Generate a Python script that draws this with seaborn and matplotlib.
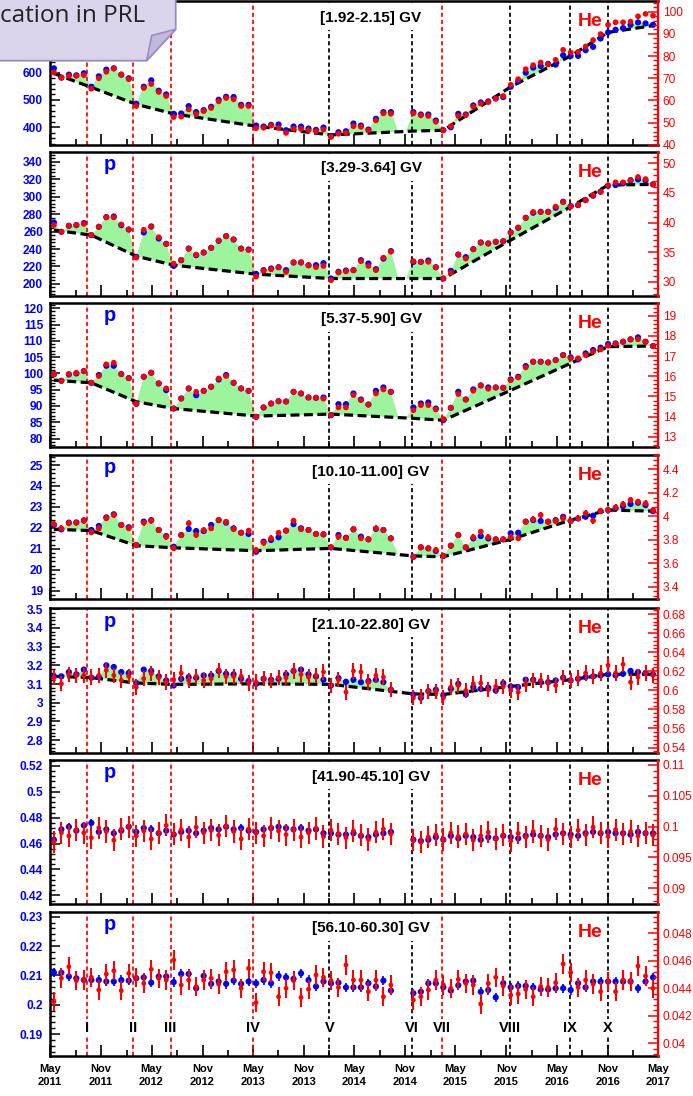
import numpy as np
import pandas as pd
import matplotlib
matplotlib.use("Agg")
import matplotlib.pyplot as plt
import matplotlib.dates as mdates
from matplotlib.ticker import AutoMinorLocator
from matplotlib.patches import Polygon
import seaborn as sns

sns.set_theme(style="white")
plt.rcParams["font.family"] = ["Liberation Sans", "DejaVu Sans"]

# ---------------------------------------------------------------- time axis
FIRST_BR, LAST_BR = 2426, 2506          # Bartels rotations
MISSING_BR = [2472, 2473]
BR_ORIGIN = pd.Timestamp("2011-05-15")
all_br = np.arange(FIRST_BR, LAST_BR + 1)
br = np.array([b for b in all_br if b not in MISSING_BR])

x_tick_labels = ["May\n2011", "Nov\n2011", "May\n2012", "Nov\n2012", "May\n2013",
                 "Nov\n2013", "May\n2014", "Nov\n2014", "May\n2015", "Nov\n2015",
                 "May\n2016", "Nov\n2016", "May\n2017"]
x_major_dates = pd.date_range("2011-05-01", "2017-05-01", freq="6MS")
x_minor_dates = pd.date_range("2011-08-01", "2017-02-01", freq="6MS")

# solar events (vertical markers)
event_labels = ["I", "II", "III", "IV", "V", "VI", "VII", "VIII", "IX", "X"]
event_dates = ["2011-09-12", "2012-02-23", "2012-07-09", "2013-05-03", "2014-02-01",
               "2014-11-25", "2015-03-13", "2015-11-14", "2016-06-16", "2016-11-01"]
event_colors = ["red", "red", "red", "red", "black",
                "black", "red", "black", "black", "black"]

rigidity_bins = ["[1.92-2.15] GV", "[3.29-3.64] GV", "[5.37-5.90] GV",
                 "[10.10-11.00] GV", "[21.10-22.80] GV", "[41.90-45.10] GV",
                 "[56.10-60.30] GV"]

# ---------------------------------------------------------------- fluxes
p_1 = [615.8, 581.5, 592.5, 590.1, 597.4, 548.4, 586.4, 610.9, 615.8, 592.5, 579.1, 485.9,
       548.4, 571.7, 533.7, 520.2, 449.2, 450.4, 477.3, 455.3, 462.6, 474.9, 500.6, 511.6,
       510.4, 482.2, 482.2, 406.3, 402.6, 408.7, 410.0, 389.1, 402.6, 402.6, 395.2, 390.3,
       398.9, 367.0, 381.8, 385.4, 413.6, 406.3, 391.6, 430.8, 455.3, 455.3,
       455.3, 446.7, 446.7, 424.6, 389.1, 400.1, 449.2, 446.7, 479.8, 490.8, 494.5, 505.5,
       510.4, 548.4, 568.0, 599.9, 618.3, 624.4, 631.7, 629.3, 663.6, 661.2, 661.2, 682.0,
       694.3, 724.9, 747.0, 756.8, 762.9, 775.1, 783.7, 780.0, 775.1]
he_1 = [72.6, 70.3, 71.1, 71.1, 71.4, 65.3, 70.0, 72.9, 74.4, 71.7, 69.6, 57.5,
        65.6, 67.4, 63.8, 62.0, 52.5, 52.7, 56.0, 53.9, 55.2, 56.6, 59.6, 61.1,
        60.5, 57.5, 57.5, 47.5, 47.7, 48.7, 47.7, 45.4, 47.2, 47.2, 46.6, 46.2,
        46.9, 43.6, 45.0, 45.4, 48.4, 48.1, 46.5, 51.0, 54.2, 54.0,
        54.2, 53.3, 53.0, 50.4, 46.6, 48.4, 53.0, 53.4, 57.2, 58.6, 59.3, 60.8,
        62.0, 67.1, 69.6, 74.1, 75.9, 77.1, 76.3, 78.3, 82.8, 81.6, 81.9, 84.3,
        87.2, 89.9, 94.1, 95.2, 95.2, 95.5, 97.9, 99.0, 98.2]

p_2 = [270.5, 259.7, 266.6, 267.4, 269.7, 255.9, 265.5, 276.6, 277.3, 267.4, 262.4, 231.0,
       259.0, 265.9, 252.1, 246.0, 220.7, 227.2, 240.6, 233.0, 236.0, 241.4, 249.4, 254.8,
       250.9, 240.6, 239.5, 211.5, 215.8, 217.7, 219.2, 215.8, 224.6, 224.6, 221.5, 221.5,
       223.8, 206.2, 213.9, 215.4, 215.8, 227.2, 223.4, 216.9, 229.1, 237.6,
       225.3, 225.3, 226.9, 219.2, 206.2, 215.0, 233.7, 230.7, 239.9, 247.5, 246.4, 248.3,
       249.0, 259.0, 264.3, 275.8, 281.6, 282.7, 282.7, 287.3, 294.2, 289.2, 290.3, 296.1,
       301.1, 305.7, 312.5, 313.3, 315.2, 318.7, 319.8, 318.7, 314.1]
he_2 = [39.6, 38.45, 39.5, 39.6, 39.8, 37.9, 39.3, 40.9, 40.9, 39.7, 38.85, 34.1,
        38.8, 39.3, 37.55, 36.4, 33.1, 33.7, 35.6, 34.6, 35.0, 35.75, 37.0, 37.7,
        37.2, 35.6, 35.4, 30.9, 31.9, 32.15, 32.5, 31.7, 33.3, 33.3, 32.8, 32.5,
        32.7, 30.3, 31.6, 31.8, 32.0, 33.5, 32.7, 32.0, 34.1, 35.1,
        33.5, 33.4, 33.4, 32.5, 30.6, 31.6, 34.6, 33.95, 35.5, 36.65, 36.5, 36.8,
        36.9, 38.35, 39.2, 40.8, 41.8, 41.8, 41.8, 42.7, 43.5, 42.7, 43.0, 43.8,
        44.65, 45.2, 46.3, 46.8, 46.8, 47.2, 47.7, 47.35, 46.45]

p_3 = [99.78, 97.73, 99.68, 99.99, 100.7, 97.1, 99.5, 102.35, 102.35, 99.8, 98.55, 90.65,
       98.96, 100.2, 96.9, 94.86, 89.2, 92.3, 95.37, 93.3, 94.65, 95.9, 98.14, 99.5,
       97.1, 95.37, 94.65, 86.65, 89.53, 90.76, 91.47, 91.37, 94.34, 93.83, 92.6, 92.5,
       92.6, 87.17, 90.55, 90.55, 93.83, 91.99, 90.45, 94.65, 95.68, 94.34,
       89.53, 90.76, 91.07, 89.2, 85.63, 89.42, 94.34, 91.99, 95.06, 96.3, 95.68, 95.68,
       95.58, 98.14, 98.96, 102.24, 103.58, 103.58, 103.37, 104.09, 105.63, 104.9, 104.3, 106.14,
       107.17, 107.9, 109.0, 109.2, 109.73, 110.45, 111.06, 109.73, 108.4]
he_3 = [16.11, 15.78, 16.11, 16.17, 16.26, 15.68, 16.01, 16.59, 16.67, 16.11, 15.91, 14.64,
        15.98, 16.17, 15.65, 15.4, 14.41, 14.9, 15.4, 15.23, 15.28, 15.48, 15.89, 16.01,
        15.68, 15.4, 15.28, 14.0, 14.46, 14.65, 14.77, 14.75, 15.23, 15.15, 14.95, 14.94,
        14.89, 14.08, 14.46, 14.46, 15.07, 14.82, 14.6, 15.15, 15.35, 15.23,
        14.32, 14.57, 14.57, 14.36, 13.89, 14.44, 15.12, 14.85, 15.28, 15.55, 15.38, 15.45,
        15.43, 15.81, 15.94, 16.44, 16.72, 16.72, 16.69, 16.8, 17.05, 16.89, 16.89, 17.05,
        17.22, 17.33, 17.51, 17.6, 17.71, 17.83, 17.83, 17.71, 17.5]

p_4 = [22.14, 21.93, 22.25, 22.26, 22.36, 21.9, 22.09, 22.5, 22.65, 22.14, 22.03, 21.18,
       22.3, 22.37, 21.9, 21.61, 21.1, 21.66, 21.95, 21.85, 21.85, 22.14, 22.37, 22.25,
       21.98, 21.77, 21.71, 20.86, 21.34, 21.42, 21.55, 21.87, 22.18, 21.98, 21.9, 21.71,
       21.69, 21.07, 21.66, 21.53, 21.93, 21.58, 21.45, 21.95, 21.9, 21.5,
       20.62, 21.07, 21.02, 20.9, 20.66, 21.15, 21.66, 21.07, 21.5, 21.61, 21.5, 21.45,
       21.45, 21.74, 21.77, 22.3, 22.37, 22.33, 22.3, 22.37, 22.53, 22.33, 22.45, 22.53,
       22.58, 22.8, 22.85, 22.93, 23.04, 23.14, 23.2, 23.09, 22.8]
he_4 = [3.934, 3.897, 3.94, 3.946, 3.963, 3.863, 3.897, 3.983, 4.011, 3.926, 3.897, 3.755,
        3.946, 3.963, 3.883, 3.826, 3.727, 3.841, 3.94, 3.841, 3.883, 3.897, 3.968, 3.954,
        3.889, 3.86, 3.878, 3.713, 3.775, 3.812, 3.86, 3.878, 3.963, 3.889, 3.883, 3.849,
        3.846, 3.736, 3.826, 3.815, 3.889, 3.812, 3.804, 3.897, 3.883, 3.812,
        3.656, 3.736, 3.727, 3.713, 3.662, 3.75, 3.841, 3.736, 3.821, 3.869, 3.821, 3.804,
        3.804, 3.821, 3.812, 3.954, 3.974, 4.011, 3.954, 3.96, 3.983, 3.96, 3.983, 4.025,
        3.963, 4.045, 4.054, 4.076, 4.102, 4.139, 4.125, 4.11, 4.054]

p_5 = [3.141, 3.141, 3.164, 3.152, 3.177, 3.134, 3.137, 3.2, 3.191, 3.164, 3.159, 3.105,
       3.177, 3.17, 3.141, 3.119, 3.092, 3.128, 3.137, 3.134, 3.146, 3.146, 3.17, 3.155,
       3.152, 3.128, 3.116, 3.101, 3.128, 3.123, 3.128, 3.152, 3.17, 3.177, 3.152, 3.141,
       3.123, 3.092, 3.132, 3.112, 3.123, 3.11, 3.116, 3.123, 3.11, 3.069,
       3.044, 3.026, 3.062, 3.069, 3.039, 3.074, 3.101, 3.044, 3.083, 3.074, 3.08, 3.065,
       3.105, 3.087, 3.083, 3.123, 3.123, 3.11, 3.11, 3.119, 3.134, 3.119, 3.128, 3.137,
       3.141, 3.146, 3.152, 3.146, 3.155, 3.17, 3.164, 3.159, 3.152]
he_5 = [0.6132, 0.6069, 0.6167, 0.6157, 0.6157, 0.6139, 0.6157, 0.621, 0.6157, 0.6104, 0.6146, 0.6034,
        0.6122, 0.6174, 0.6132, 0.6086, 0.6111, 0.6181, 0.6104, 0.6146, 0.6104, 0.6122, 0.621, 0.6146,
        0.6146, 0.6146, 0.6076, 0.6086, 0.6122, 0.6104, 0.6132, 0.6132, 0.6203, 0.6167, 0.6139, 0.6157,
        0.6192, 0.6051, 0.6111, 0.5981, 0.6203, 0.6192, 0.6086, 0.6157, 0.6139, 0.6006,
        0.5921, 0.5935, 0.5991, 0.5991, 0.5921, 0.6034, 0.6051, 0.5998, 0.6069, 0.6076, 0.6006, 0.6041,
        0.6041, 0.5998, 0.5981, 0.6062, 0.6104, 0.6104, 0.6076, 0.6051, 0.6132, 0.6104, 0.6129, 0.6181,
        0.6146, 0.6181, 0.6262, 0.6181, 0.6273, 0.6086, 0.6139, 0.6181, 0.6157]

p_6 = [0.463, 0.471, 0.473, 0.470, 0.474, 0.476, 0.469, 0.471, 0.468, 0.470, 0.473, 0.469,
       0.472, 0.471, 0.468, 0.470, 0.467, 0.469, 0.470, 0.468, 0.470, 0.472, 0.471, 0.473,
       0.471, 0.472, 0.470, 0.469, 0.471, 0.472, 0.473, 0.472, 0.471, 0.472, 0.470, 0.471,
       0.468, 0.468, 0.467, 0.467, 0.468, 0.466, 0.465, 0.467, 0.468, 0.469,
       0.463, 0.462, 0.463, 0.465, 0.463, 0.466, 0.464, 0.466, 0.465, 0.463, 0.465, 0.464,
       0.466, 0.465, 0.464, 0.466, 0.467, 0.466, 0.465, 0.467, 0.468, 0.467, 0.466, 0.468,
       0.469, 0.468, 0.469, 0.468, 0.468, 0.467, 0.469, 0.468, 0.468]
he_6 = [0.0975, 0.0990, 0.0985, 0.0995, 0.0990, 0.0982, 0.0998, 0.0992, 0.0978, 0.0996, 0.1000, 0.0985,
        0.0993, 0.0980, 0.0990, 0.1002, 0.0988, 0.0995, 0.0983, 0.0999, 0.0990, 0.0994, 0.0986, 0.1001,
        0.0992, 0.0980, 0.0996, 0.0990, 0.0985, 0.0998, 0.0993, 0.0987, 0.0995, 0.0983, 0.0990, 0.0997,
        0.0984, 0.0994, 0.0988, 0.0982, 0.0993, 0.0986, 0.0979, 0.0991, 0.0996, 0.0988,
        0.0978, 0.0975, 0.0983, 0.0987, 0.0979, 0.0990, 0.0984, 0.0988, 0.0978, 0.0985, 0.0991, 0.0980,
        0.0986, 0.0977, 0.0989, 0.0983, 0.0992, 0.0985, 0.0979, 0.0996, 0.0988, 0.0983, 0.0994, 0.0987,
        0.0999, 0.0990, 0.0984, 0.0995, 0.0988, 0.0992, 0.0985, 0.0990, 0.0986]

p_7 = [0.2110, 0.2109, 0.2096, 0.2090, 0.2084, 0.2084, 0.2084, 0.2079, 0.2079, 0.2084, 0.2082, 0.2090,
       0.2093, 0.2075, 0.2096, 0.2096, 0.2077, 0.2105, 0.2105, 0.2056, 0.2098, 0.2071, 0.2079, 0.2071,
       0.2082, 0.2071, 0.2079, 0.2073, 0.2084, 0.2073, 0.2098, 0.2093, 0.2088, 0.2107, 0.2084, 0.2062,
       0.2079, 0.2073, 0.2075, 0.2059, 0.2059, 0.2059, 0.2073, 0.2062, 0.2082, 0.2048,
       0.2039, 0.2044, 0.2073, 0.2073, 0.2059, 0.2048, 0.2066, 0.2079, 0.2082, 0.2044, 0.2050, 0.2025,
       0.2073, 0.2059, 0.2064, 0.2064, 0.2059, 0.2052, 0.2052, 0.2056, 0.2056, 0.2050, 0.2073, 0.2059,
       0.2079, 0.2079, 0.2079, 0.2079, 0.2079, 0.2079, 0.2056, 0.2079, 0.2093]
he_7 = [0.04303, 0.04473, 0.04557, 0.04456, 0.04460, 0.04480, 0.04388, 0.04504, 0.04528, 0.04383, 0.04509, 0.04480,
        0.04436, 0.04538, 0.04473, 0.04460, 0.04606, 0.04424, 0.04460, 0.04412, 0.04460, 0.04473, 0.04431, 0.04521,
        0.04533, 0.04400, 0.04545, 0.04296, 0.04521, 0.04514, 0.04339, 0.04400, 0.04456, 0.04334, 0.04393, 0.04497,
        0.04480, 0.04456, 0.04407, 0.04570, 0.04460, 0.04460, 0.04376, 0.04460, 0.04339, 0.04424,
        0.04315, 0.04339, 0.04388, 0.04460, 0.04424, 0.04400, 0.04465, 0.04436, 0.04424, 0.04286, 0.04436, 0.04480,
        0.04417, 0.04351, 0.04359, 0.04393, 0.04339, 0.04412, 0.04407, 0.04441, 0.04577, 0.04514, 0.04407, 0.04460,
        0.04431, 0.04376, 0.04448, 0.04376, 0.04460, 0.04448, 0.04562, 0.04490, 0.04400]

# typical uncertainties per rigidity bin (proton, helium)
p_err = [3.0, 1.0, 0.3, 0.04, 0.015, 0.003, 0.0016]
he_err = [0.3, 0.15, 0.05, 0.025, 0.008, 0.0018, 0.0007]

# reference baseline (proton units) anchored at the rotations after each event
base_br = [2426, 2431, 2437, 2442, 2453, 2463, 2474, 2478, 2487, 2495, 2500, 2506]
base_1 = [597, 546, 484, 449, 404, 372, 386, 389, 548, 661, 747, 772]
base_2 = [261.7, 255.9, 231.8, 221.5, 211.2, 206.2, 206.2, 206.2, 250.2, 288.4, 313.3, 314.0]
base_3 = [97.9, 97.1, 91.3, 89.2, 86.9, 87.5, 86.2, 85.6, 94.8, 103.1, 108.2, 108.4]
base_4 = [21.93, 21.87, 21.15, 21.05, 20.91, 21.02, 20.66, 20.62, 21.45, 22.37, 22.85, 22.80]
base_5 = [3.141, 3.134, 3.105, 3.098, 3.101, 3.098, 3.047, 3.044, 3.087, 3.123, 3.152, 3.152]

# axis ranges, major steps and the highest labelled proton tick
p_lim = [(334, 862), (186.2, 351.5), (77.4, 121.7), (18.59, 25.48), (2.733, 3.505),
         (0.4131, 0.5246), (0.1825, 0.2317)]
p_step = [100, 20, 5, 1, 0.1, 0.02, 0.01]
p_label_max = [600, None, None, None, None, None, None]
he_lim = [(39.8, 104.8), (27.64, 51.96), (12.5, 19.64), (3.293, 4.522), (0.5347, 0.686),
          (0.0874, 0.1108), (0.03908, 0.04957)]
he_step = [10, 5, 1, 0.2, 0.02, 0.005, 0.002]
show_p_tag = [False, True, True, True, True, True, True]

p_series = [p_1, p_2, p_3, p_4, p_5, p_6, p_7]
he_series = [he_1, he_2, he_3, he_4, he_5, he_6, he_7]
baselines = [base_1, base_2, base_3, base_4, base_5, None, None]

# ---------------------------------------------------------------- figure
W, H = 693, 1096
fig = plt.figure(figsize=(W / 100, H / 100), dpi=100)
fig.patch.set_facecolor("white")

LEFT, RIGHT = 50, 658
tops = [1, 151.7, 302.7, 455, 608.3, 760, 911.7]
PH = 144.3

def br_num(b):
    d = BR_ORIGIN + pd.to_timedelta(27 * (np.asarray(b) - FIRST_BR), unit="D")
    return mdates.date2num(d)

xd = br_num(br)
xd_all = br_num(all_br)
xb = br_num(base_br)
x_ev = mdates.date2num(pd.to_datetime(event_dates))
xlo, xhi = mdates.date2num(pd.Timestamp("2011-05-01")), mdates.date2num(pd.Timestamp("2017-05-01"))


def ticks_in(lo, hi, step):
    start = np.ceil(lo / step - 1e-9) * step
    vals = np.arange(start, hi + 1e-12, step)
    return [v for v in vals if lo <= v <= hi]


def g(v):
    return f"{round(v, 7):g}"


GREEN = "#9CF59C"
for k in range(7):
    ax = fig.add_axes([LEFT / W, 1 - (tops[k] + PH) / H, (RIGHT - LEFT) / W, PH / H])
    tw = ax.twinx()
    ax.set_facecolor("white")
    p = np.array(p_series[k])
    he = np.array(he_series[k])

    # green excess over the baseline
    if baselines[k] is not None:
        base_all = np.interp(all_br, base_br, baselines[k])
        p_all = base_all.copy()
        present = np.isin(all_br, br)
        p_all[present] = p
        ax.fill_between(xd_all, p_all, base_all, where=p_all >= base_all,
                        interpolate=True, color=GREEN, lw=0, zorder=1)
        ax.plot(xb, baselines[k], color="black", lw=2.3,
                ls=(0, (2.8, 1.4)), zorder=2, solid_capstyle="butt")

    for xe, c in zip(x_ev, event_colors):
        ax.axvline(xe, color=c, lw=1.25, ls=(0, (2.4, 1.7)), zorder=1.5)

    ax.errorbar(xd, p, yerr=p_err[k], fmt="none", ecolor="#0000ff",
                elinewidth=1.2, capsize=0, zorder=3)
    sns.scatterplot(x=xd, y=p, ax=ax, color="#0000ff", s=20,
                    edgecolor="none", linewidth=0, zorder=4)
    tw.errorbar(xd, he, yerr=he_err[k], fmt="none", ecolor="#ff0000",
                elinewidth=1.5, capsize=0, zorder=3)
    sns.scatterplot(x=xd, y=he, ax=tw, color="#ff0000", s=17 if k < 4 else 12,
                    edgecolor="none", linewidth=0, zorder=4)

    ax.set_xlim(xlo, xhi)
    ax.set_ylim(*p_lim[k])
    tw.set_ylim(*he_lim[k])
    ax.set_xlabel("")
    ax.set_ylabel("")
    tw.set_ylabel("")

    # x ticks
    ax.set_xticks(mdates.date2num(x_major_dates))
    ax.set_xticks(mdates.date2num(x_minor_dates), minor=True)
    if k == 6:
        ax.set_xticklabels(x_tick_labels, fontsize=8, fontweight="bold",
                           color="black", linespacing=1.35)
    else:
        ax.set_xticklabels([])
    ax.tick_params(axis="x", which="major", direction="in", length=8, width=1.2,
                   color="black", bottom=True, top=False, pad=6)
    ax.tick_params(axis="x", which="minor", direction="in", length=4, width=1.2,
                   color="black", bottom=True, top=False)

    # left (proton) axis
    pt = ticks_in(*p_lim[k], p_step[k])
    lim_lab = p_label_max[k]
    ax.set_yticks(pt)
    ax.set_yticklabels([g(v) if (lim_lab is None or v <= lim_lab) else "" for v in pt],
                       fontsize=8.6, fontweight="bold", color="#0000ff")
    ax.yaxis.set_minor_locator(AutoMinorLocator(5))
    ax.tick_params(axis="y", which="major", direction="in", length=7, width=1.1,
                   color="black", left=True, right=False, pad=5)
    ax.tick_params(axis="y", which="minor", direction="in", length=3.5, width=1.0,
                   color="black", left=True, right=False)

    # right (helium) axis
    ht = ticks_in(*he_lim[k], he_step[k])
    tw.set_yticks(ht)
    tw.set_yticklabels([g(v) for v in ht], fontsize=8.6, color="#ff0000")
    tw.yaxis.set_minor_locator(AutoMinorLocator(5))
    tw.tick_params(axis="y", which="major", direction="in", length=7, width=1.1,
                   color="#ff0000", right=True, left=False, pad=3.5)
    tw.tick_params(axis="y", which="minor", direction="in", length=3.5, width=1.0,
                   color="#ff0000", right=True, left=False)

    for s in ["left", "top", "bottom"]:
        ax.spines[s].set_color("black")
        ax.spines[s].set_linewidth(1.8)
        tw.spines[s].set_visible(False)
    ax.spines["right"].set_visible(False)
    tw.spines["right"].set_color("#ff0000")
    tw.spines["right"].set_linewidth(1.6)

    ax.text(0.528, 0.885, rigidity_bins[k], transform=ax.transAxes, ha="center",
            va="center", fontsize=11, fontweight="bold", color="black", zorder=2.2,
            bbox=dict(boxstyle="square,pad=0.35", fc="white", ec="none"))
    if show_p_tag[k]:
        ax.text(0.0987, 0.873, "p", transform=ax.transAxes, ha="center", va="baseline",
                fontsize=14.5, fontweight="bold", color="#0000ff", zorder=2.2)
    ax.text(0.889, 0.826, "He", transform=ax.transAxes, ha="center", va="baseline",
            fontsize=14, fontweight="bold", color="#ff0000", zorder=2.2)

    if k == 6:
        for xe, lab in zip(x_ev, event_labels):
            ax.text(xe, 0.196, lab, transform=ax.get_xaxis_transform(), ha="center",
                    va="center", fontsize=10.5, fontweight="bold", color="black",
                    zorder=2.2, bbox=dict(boxstyle="square,pad=0.15", fc="white", ec="none"))

# ---------------------------------------------------------------- callout
ov = fig.add_axes([0, 0, 1, 1], zorder=10)
ov.set_xlim(0, W)
ov.set_ylim(H, 0)
ov.axis("off")
ov.patch.set_visible(False)
ov.add_patch(Polygon([(-3, -3), (175.7, -3), (175.7, 29.3), (146.7, 60.7), (-3, 60.7)],
                     closed=True, fc="#DCD4EB", ec="#9C8CC4", lw=1.3))
ov.add_patch(Polygon([(146.7, 60.7), (151.7, 35.5), (175.7, 29.3)],
                     closed=True, fc="#C5B8DF", ec="#9C8CC4", lw=1.2))
ov.text(-0.5, 21.7, "cation in PRL", ha="left", va="baseline", fontsize=17.5,
        family=["Open Sans", "DejaVu Sans"], color="#222222")

fig.savefig("out.png", dpi=100, facecolor="white")
